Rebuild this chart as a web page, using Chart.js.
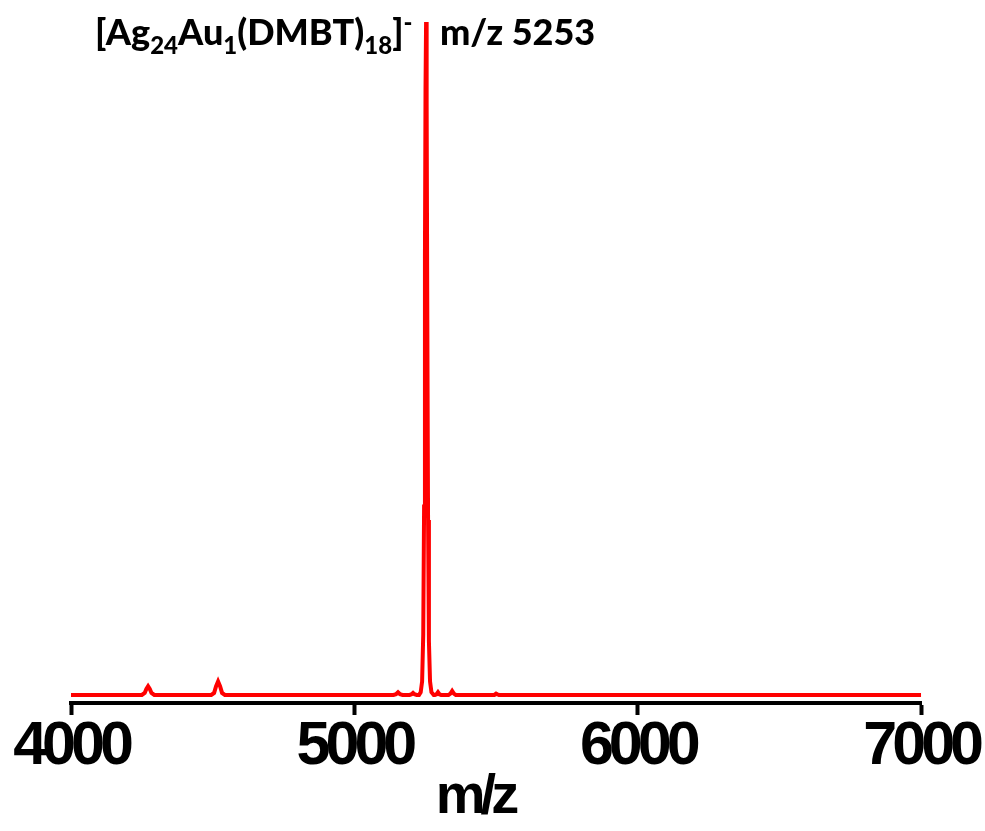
<!DOCTYPE html>
<html>
<head>
<meta charset="utf-8">
<script src="https://cdn.jsdelivr.net/npm/chart.js@4.4.1/dist/chart.umd.min.js"></script>
<style>
  html, body { margin: 0; padding: 0; background: #fff; }
  #wrap { position: relative; width: 985px; height: 831px; }
  #spectrum { position: absolute; left: 0; top: 0; }
  .label { position: absolute; font-family: Lato, 'Open Sans', sans-serif; font-weight: 900; font-size: 36px; line-height: 36px; color: #000; white-space: nowrap; }
  .label sub { font-size: 24px; vertical-align: -9px; line-height: 0; }
  .label sup { font-size: 24px; vertical-align: 14px; line-height: 0; }
</style>
</head>
<body>
<div id="wrap">
  <canvas id="spectrum" width="985" height="831"></canvas>
  <div class="label" id="formula" style="left:95px; top:13px;">[Ag<sub>24</sub>Au<sub>1</sub>(DMBT)<sub>18</sub>]<sup>-</sup></div>
  <div class="label" id="peak-mz" style="left:440px; top:13px;">m/z 5253</div>
</div>
<script>
// spectrum (m/z, relative intensity %)
const mzValues = [
  4000, 4250, 4260, 4266, 4272, 4278, 4284, 4294,
  4495, 4505, 4512, 4519, 4526, 4533, 4543,
  5138, 5147, 5154, 5161, 5170,
  5195, 5202, 5207, 5212, 5220,
  5228, 5234, 5239, 5243, 5246, 5249, 5251, 5253, 5255, 5257, 5260, 5263, 5267, 5272, 5280,
  5284, 5290, 5295, 5300, 5306,
  5332, 5339, 5345, 5351, 5358,
  5494, 5500, 5504, 5510,
  7000
];
const intensity = [
  0, 0, 0.3, 0.9, 1.3, 0.9, 0.3, 0,
  0, 0.3, 1.3, 2.0, 1.3, 0.3, 0,
  0, 0.1, 0.4, 0.1, 0,
  0, 0.1, 0.3, 0.1, 0,
  0, 0.4, 2, 9, 28, 65, 90, 100, 88, 60, 26, 8, 2, 0.4, 0,
  0, 0.1, 0.4, 0.1, 0,
  0, 0.2, 0.6, 0.2, 0,
  0, 0.2, 0.1, 0,
  0
];
const xTicks = [4000, 5000, 6000, 7000];
const xTitle = 'm/z';

const tightText = {
  id: 'tightText',
  beforeDraw(chart) {
    chart.ctx.letterSpacing = '-5px';
  },
  afterDraw(chart) {
    chart.ctx.letterSpacing = '0px';
  }
};

const ctx = document.getElementById('spectrum').getContext('2d');
new Chart(ctx, {
  type: 'line',
  data: {
    datasets: [{
      data: mzValues.map((mz, i) => ({ x: mz, y: intensity[i] })),
      borderColor: '#ff0000',
      borderWidth: 4,
      pointRadius: 0,
      tension: 0,
      fill: false
    }]
  },
  options: {
    responsive: false,
    animation: false,
    layout: { padding: { left: 71, right: 63, top: 10, bottom: 0 } },
    plugins: {
      legend: { display: false },
      tooltip: { enabled: false }
    },
    scales: {
      x: {
        type: 'linear',
        min: 4000,
        max: 7000,
        afterBuildTicks: (scale) => { scale.ticks = xTicks.map((v) => ({ value: v })); },
        afterFit: (scale) => { scale.height = 128; },
        border: { display: true, color: '#000', width: 4 },
        grid: { drawOnChartArea: false, drawTicks: true, tickLength: 12, tickWidth: 4, tickColor: '#000' },
        ticks: {
          color: '#000',
          padding: -4,
          maxRotation: 0,
          autoSkip: false,
          callback: (value) => String(value),
          font: { family: "'Liberation Sans', Arial, sans-serif", size: 61, weight: 'bold' }
        },
        title: {
          display: true,
          text: xTitle + '    ',
          color: '#000',
          padding: { top: 0, bottom: 0 },
          font: { family: "'Liberation Sans', Arial, sans-serif", size: 56, weight: 'bold' }
        }
      },
      y: {
        display: false,
        min: -1.2,
        max: 101.8
      }
    }
  },
  plugins: [tightText]
});
</script>
</body>
</html>
